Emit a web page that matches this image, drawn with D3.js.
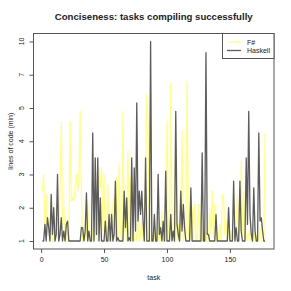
<!DOCTYPE html>
<html>
<head>
<meta charset="utf-8">
<script src="https://d3js.org/d3.v7.min.js"></script>
<style>
  body { margin: 0; background: #fff; }
  text { font-family: "Liberation Sans", Arial, sans-serif; fill: #222; }
</style>
</head>
<body>
<div id="chart"></div>
<script>
// lines of code (min) per task
const fsharp = [
  2.5, 3.0, 1.3, 2.4, 1.2, 1.7, 1.1, 2.2, 1.0, 1.6,
  1.0, 2.0, 1.2, 1.0, 2.6, 4.6, 1.5, 2.0, 1.1, 1.0,
  1.3, 1.0, 4.6, 2.2, 2.3, 2.2, 2.6, 3.0, 2.5, 2.8,
  4.9, 2.4, 1.0, 1.3, 1.0, 1.2, 2.2, 1.0, 1.1, 1.0,
  1.4, 1.0, 1.2, 2.0, 1.0, 3.2, 2.6, 3.2, 1.3, 3.0,
  1.0, 1.2, 2.7, 1.0, 1.4, 1.0, 2.1, 2.4, 1.0, 2.9,
  1.0, 3.3, 1.2, 1.0, 4.9, 1.3, 2.2, 1.0, 3.7, 1.2,
  2.9, 1.0, 1.1, 1.0, 1.3, 1.0, 2.0, 1.0, 1.2, 1.6,
  1.0, 1.0, 3.2, 5.8, 4.4, 1.0, 1.0, 1.2, 1.0, 1.4,
  1.0, 1.2, 1.0, 1.6, 1.0, 1.9, 1.0, 1.2, 1.0, 4.6,
  1.3, 1.0, 6.5, 1.2, 1.0, 2.2, 3.9, 1.0, 1.5, 1.0,
  1.2, 4.3, 1.0, 1.6, 1.0, 6.6, 1.2, 1.0, 1.4, 2.0,
  1.1, 2.1, 1.0, 1.2, 2.1, 1.0, 1.8, 1.0, 1.2, 1.0,
  1.0, 1.3, 1.0, 1.9, 1.2, 2.5, 1.1, 2.1, 1.0, 1.3,
  1.0, 1.5, 1.0, 2.4, 2.3, 1.2, 1.6, 1.0, 1.9, 1.0,
  1.3, 1.0, 1.2, 1.0, 1.6, 2.4, 1.0, 1.4, 3.4, 1.2,
  2.5, 1.0, 1.2, 1.0, 1.3, 1.0, 1.1, 1.0, 1.3, 1.0,
  1.0, 1.2, 1.0, 1.4, 1.0, 1.0, 1.0, 4.25
];
const haskell = [
  1.0, 1.0, 1.5, 1.0, 1.7, 1.4, 1.0, 2.4, 1.2, 2.0,
  1.0, 1.2, 3.0, 1.0, 1.2, 1.7, 1.0, 1.3, 1.0, 1.5,
  1.6, 1.0, 1.0, 1.0, 1.0, 1.0, 1.0, 1.0, 1.0, 1.0,
  1.0, 1.4, 1.4, 1.0, 1.3, 2.45, 1.0, 1.3, 1.0, 1.0,
  4.25, 1.0, 3.5, 1.2, 3.5, 1.0, 2.3, 1.0, 1.0, 1.0,
  1.6, 1.0, 1.0, 1.8, 1.0, 1.8, 1.0, 1.2, 2.8, 1.0,
  1.1, 1.0, 1.0, 1.0, 1.0, 2.5, 1.4, 2.3, 1.0, 1.1,
  1.0, 3.5, 1.0, 3.2, 1.3, 5.3, 1.6, 2.5, 1.8, 2.5,
  1.6, 1.0, 3.5, 1.0, 1.0, 1.0, 10, 1.0, 1.0, 1.8,
  1.0, 1.0, 3.0, 1.2, 1.4, 1.0, 1.6, 1.0, 3.1, 1.0,
  1.0, 1.0, 1.8, 1.0, 1.3, 1.0, 4.9, 1.5, 1.2, 1.0,
  2.5, 1.3, 2.1, 1.4, 1.0, 1.0, 1.0, 1.0, 2.6, 1.0,
  1.0, 1.0, 1.0, 1.0, 1.0, 1.0, 1.0, 3.65, 1.0, 1.0,
  9.0, 1.2, 1.2, 1.0, 1.0, 1.0, 1.0, 1.0, 1.8, 1.0,
  1.0, 1.0, 1.0, 1.0, 1.0, 1.0, 1.0, 1.0, 2.0, 1.0,
  1.0, 1.0, 2.8, 1.0, 1.4, 1.0, 1.0, 2.8, 1.3, 1.0,
  1.0, 1.0, 3.5, 1.5, 4.9, 1.8, 1.2, 1.0, 2.6, 1.3,
  1.0, 1.0, 4.25, 1.6, 1.7, 1.3, 1.0, 1.0
];
const yTicks = [1, 2, 3, 4, 5, 7, 10];
const xTicks = [0, 50, 100, 150];
const seriesNames = ['F#', 'Haskell'];
const seriesColors = ['#ffff88', '#5c5c5c'];

const W = 291, H = 291;
// plot box
const box = {left: 33.5, right: 274, top: 33.5, bottom: 249};

const svg = d3.select('#chart').append('svg')
    .attr('width', W)
    .attr('height', H);

const n = haskell.length;
const padX = 0.04 * (n - 1);
const x = d3.scaleLinear()
    .domain([1 - padX, n + padX])
    .range([box.left, box.right]);

// y axis is evenly spaced between its labels
const boxH = box.bottom - box.top;
const pad = boxH * 0.04 / 1.08;
const yTop = box.top + pad, yBot = box.bottom - pad;
const step = (yBot - yTop) / (yTicks.length - 1);
const y = d3.scaleLinear()
    .domain(yTicks)
    .range(yTicks.map(function (d, i) { return yBot - i * step; }));

const line = d3.line()
    .x(function (d, i) { return x(i + 1); })
    .y(function (d) { return y(d); });

const plot = svg.append('g');
[fsharp, haskell].forEach(function (s, k) {
    plot.append('path')
        .datum(s)
        .attr('fill', 'none')
        .attr('stroke', seriesColors[k])
        .attr('stroke-width', 1.3)
        .attr('stroke-linejoin', 'round')
        .attr('d', line);
});

// box
svg.append('rect')
    .attr('x', box.left).attr('y', box.top)
    .attr('width', box.right - box.left)
    .attr('height', box.bottom - box.top)
    .attr('fill', 'none')
    .attr('stroke', '#555')
    .attr('stroke-width', 1);

// x axis
const xAxis = d3.axisBottom(x).tickValues(xTicks).tickSize(4).tickPadding(4);
const gx = svg.append('g')
    .attr('transform', 'translate(0,' + box.bottom + ')')
    .call(xAxis);
gx.select('.domain').remove();
gx.selectAll('line').attr('stroke', '#555');
gx.selectAll('text').style('font-size', '7px').attr('fill', '#222');

// y axis, labels parallel to the axis
const yAxis = d3.axisLeft(y).tickValues(yTicks).tickSize(4).tickFormat('');
const gy = svg.append('g')
    .attr('transform', 'translate(' + box.left + ',0)')
    .call(yAxis);
gy.select('.domain').remove();
gy.selectAll('line').attr('stroke', '#555');
svg.append('g').selectAll('text')
    .data(yTicks)
    .join('text')
    .attr('transform', function (d) { return 'translate(23.5,' + y(d) + ') rotate(-90)'; })
    .attr('text-anchor', 'middle')
    .style('font-size', '7px')
    .text(function (d) { return d; });

// titles
svg.append('text')
    .attr('x', (box.left + box.right) / 2).attr('y', 20)
    .attr('text-anchor', 'middle')
    .style('font-size', '9.6px')
    .style('font-weight', 'bold')
    .text('Conciseness: tasks compiling successfully');
svg.append('text')
    .attr('x', (box.left + box.right) / 2).attr('y', 279.5)
    .attr('text-anchor', 'middle')
    .style('font-size', '7px')
    .text('task');
svg.append('text')
    .attr('transform', 'translate(12.5,' + ((box.top + box.bottom) / 2) + ') rotate(-90)')
    .attr('text-anchor', 'middle')
    .style('font-size', '7px')
    .text('lines of code (min)');

// legend
const leg = svg.append('g');
leg.append('rect')
    .attr('x', 222.5).attr('y', box.top)
    .attr('width', box.right - 222.5).attr('height', 25)
    .attr('fill', '#fff')
    .attr('stroke', '#555');
seriesNames.forEach(function (name, k) {
    const ly = box.top + 8.5 + k * 8.5;
    leg.append('line')
        .attr('x1', 227).attr('x2', 241)
        .attr('y1', ly).attr('y2', ly)
        .attr('stroke', seriesColors[k])
        .attr('stroke-width', 1.3);
    leg.append('text')
        .attr('x', 247).attr('y', ly + 2.5)
        .style('font-size', '7px')
        .text(name);
});
</script>
</body>
</html>
